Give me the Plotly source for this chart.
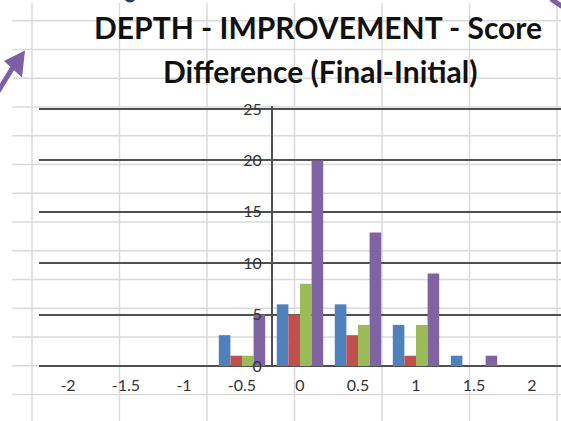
import plotly.graph_objects as go

# ---- data ----
categories = ["-2", "-1.5", "-1", "-0.5", "0", "0.5", "1", "1.5", "2"]
series_names = ["Series 1", "Series 2", "Series 3", "Series 4"]
s1_blue = [0, 0, 0, 3, 6, 6, 4, 1, 0]
s2_red = [0, 0, 0, 1, 5, 3, 1, 0, 0]
s3_green = [0, 0, 0, 1, 8, 4, 4, 0, 0]
s4_purple = [0, 0, 0, 5, 20, 13, 9, 1, 0]
y_ticks = [0, 5, 10, 15, 20, 25]
title_line1 = "DEPTH - IMPROVEMENT - Score"
title_line2 = "Difference (Final-Initial)"

colors = ["#4F81BD", "#C0504D", "#9BBB59", "#8064A2"]
FONT = "Lato"

W, H = 561, 421
L, R, T, B = 39, 561, 106, 366


def px(x):
    return (x - L) / (R - L)


def py(y):
    return (B - y) / (B - T)


fig = go.Figure()
for name, vals, c in zip(series_names, [s1_blue, s2_red, s3_green, s4_purple], colors):
    fig.add_trace(go.Bar(x=categories, y=vals, name=name, marker=dict(color=c, line=dict(width=0)),
                         hoverinfo="skip"))

shapes = []
# spreadsheet background grid
for gx in [32, 119.5, 207, 294.5, 382, 469.5, 557]:
    shapes.append(dict(type="line", xref="paper", yref="paper", x0=px(gx), x1=px(gx), y0=py(3), y1=py(425),
                       line=dict(color="#dadada", width=1.5), layer="below"))
for k in range(14):
    gy = 20.7 + 28.75 * k
    shapes.append(dict(type="line", xref="paper", yref="paper", x0=px(12), x1=px(565), y0=py(gy), y1=py(gy),
                       line=dict(color="#dadada", width=1.5), layer="below"))

# decorative slide bits
purple = "#7E5FA7"
shapes.append(dict(type="line", xref="paper", yref="paper", x0=px(-3), y0=py(93), x1=px(15), y1=py(64),
                   line=dict(color=purple, width=5), layer="above"))
shapes.append(dict(type="path", xref="paper", yref="paper",
                   path=f"M {px(25)},{py(50.5)} L {px(4)},{py(61)} L {px(22)},{py(77.5)} Z",
                   fillcolor=purple, line=dict(color=purple, width=0), layer="above"))
shapes.append(dict(type="line", xref="paper", yref="paper", x0=px(551), y0=py(-1), x1=px(562), y1=py(6.5),
                   line=dict(color=purple, width=5), layer="above"))
shapes.append(dict(type="path", xref="paper", yref="paper",
                   path=f"M {px(124)},{py(-1)} Q {px(130)},{py(6)} {px(136)},{py(-1)} Z",
                   fillcolor="#1F3A6E", line=dict(color="#1F3A6E", width=0), layer="above"))

fig.update_layout(
    width=W, height=H,
    margin=dict(l=L, r=W - R, t=T, b=H - B, pad=0),
    paper_bgcolor="white",
    plot_bgcolor="rgba(0,0,0,0)",
    barmode="group", bargap=0.2, bargroupgap=0,
    showlegend=False,
    hovermode=False,
    shapes=shapes,
    font=dict(family=FONT, color="#3a3a3a"),
    xaxis=dict(type="category", categoryorder="array", categoryarray=categories,
               showgrid=False, zeroline=False, showline=False, ticks="",
               tickfont=dict(size=16, color="#333333"), ticklabelstandoff=8),
    yaxis=dict(range=[0, 25.3], tickvals=y_ticks, showgrid=True, gridcolor="#505050", gridwidth=2,
               zeroline=True, zerolinecolor="#505050", zerolinewidth=2,
               anchor="free", position=4 / 9, side="left",
               showline=True, linecolor="#505050", linewidth=1.5,
               ticks="outside", ticklen=3, tickcolor="#505050",
               tickfont=dict(size=16, color="#333333"), ticklabelstandoff=3),
    annotations=[
        dict(text=f"<b>{title_line1}</b>", xref="paper", yref="paper", x=px(318), y=py(27),
             xanchor="center", yanchor="middle", showarrow=False, font=dict(size=30, color="#111111", family=FONT)),
        dict(text=f"<b>{title_line2}</b>", xref="paper", yref="paper", x=px(320), y=py(71),
             xanchor="center", yanchor="middle", showarrow=False, font=dict(size=30, color="#111111", family=FONT)),
    ],
)

fig.write_html("out.html", config={"displayModeBar": False, "staticPlot": True},
               post_script="document.body.style.margin='0';document.body.style.padding='0';")
